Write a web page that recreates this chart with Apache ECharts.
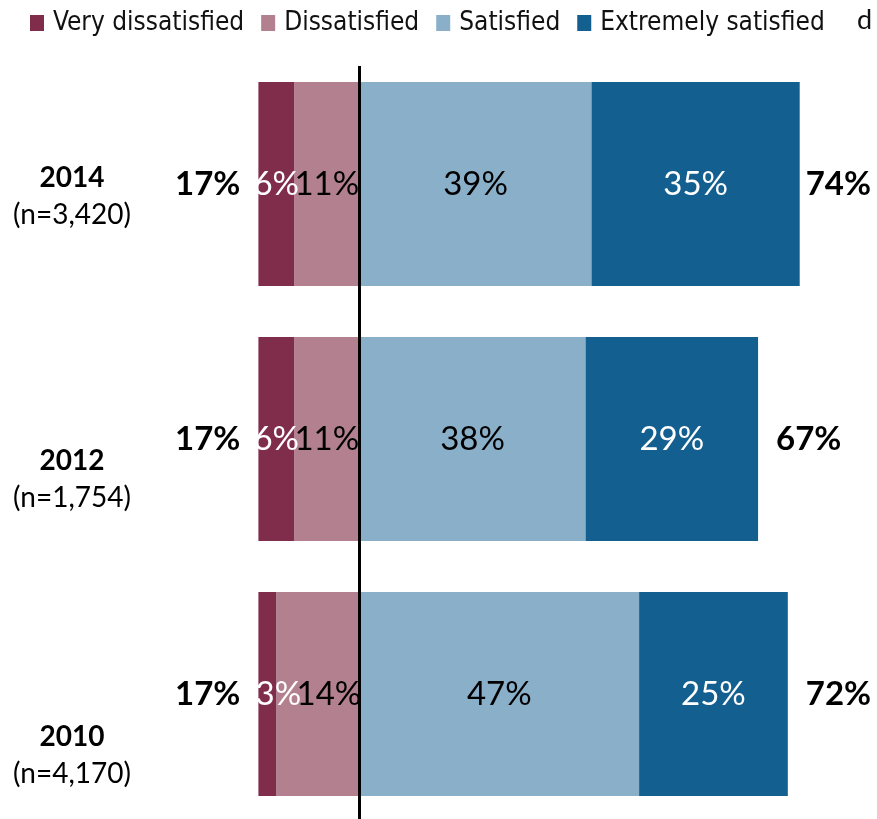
<!DOCTYPE html>
<html>
<head>
<meta charset="utf-8">
<script src="https://cdn.jsdelivr.net/npm/echarts@6/dist/echarts.min.js"></script>
<style>
  html, body { margin: 0; padding: 0; background: #fff; }
  #chart { width: 877px; height: 819px; }
</style>
</head>
<body>
<div id="chart"></div>
<script>
// survey years, top to bottom
var years = ['2014', '2012', '2010'];
var sampleSizes = ['n=3,420', 'n=1,754', 'n=4,170'];

// shares in percent
var veryDissatisfied = [6, 6, 3];
var dissatisfied = [11, 11, 14];
var satisfied = [39, 38, 47];
var extremelySatisfied = [35, 29, 25];

var colors = {
    veryDis: '#802d4b',
    dis: '#b3808f',
    sat: '#89afc9',
    ext: '#135f90'
};

// the year labels sit a bit lower than the bar centres
var labelShift = [12, 40, 61];
// in 2010 the small left-side labels are nudged right (as in the original)
var negLabelNudge = [0, 0, 11];

var negTotals = years.map(function (y, i) { return -(veryDissatisfied[i] + dissatisfied[i]); });
var posTotals = years.map(function (y, i) { return satisfied[i] + extremelySatisfied[i]; });

var pct = function (p) { return Math.abs(p.value) + '%'; };

function segment(name, values, sign, color, labelColor) {
    return {
        name: name,
        type: 'bar',
        stack: 'main',
        barCategoryGap: '20%',
        barGap: '-100%',
        data: values.map(function (v, i) {
            var item = { value: sign * v };
            if (sign < 0 && negLabelNudge[i]) item.label = { offset: [negLabelNudge[i], 0] };
            return item;
        }),
        itemStyle: { color: color },
        label: {
            show: true,
            position: 'inside',
            formatter: pct,
            color: labelColor,
            fontFamily: 'Lato',
            fontSize: 33
        },
        silent: true
    };
}

var rich = {
    n: { fontFamily: 'Lato', fontSize: 28, color: '#000', lineHeight: 37, align: 'center' },
    y: { fontFamily: 'Lato', fontSize: 28, fontWeight: 'bold', color: '#000', lineHeight: 37, align: 'center' }
};
labelShift.forEach(function (d, i) {
    rich['s' + i] = { fontSize: 4, lineHeight: 2 * d };
});

var option = {
    animation: false,
    backgroundColor: '#fff',
    legend: {
        data: ['Very dissatisfied', 'Dissatisfied', 'Satisfied', 'Extremely satisfied'],
        left: 25,
        top: 5,
        icon: 'rect',
        itemWidth: 14,
        itemHeight: 16,
        itemGap: 17,
        selectedMode: false,
        textStyle: {
            fontFamily: 'DejaVu Sans Condensed',
            fontSize: 26,
            color: '#111',
            padding: [0, 0, 0, 4]
        }
    },
    graphic: [{
        type: 'text',
        left: 857,
        top: 7,
        style: { text: 'd', font: '27px Lato', fill: '#111' }
    }],
    grid: {
        left: 258.4,
        width: 577,
        top: 56.5,
        height: 765,
        outerBoundsMode: 'none'
    },
    xAxis: {
        type: 'value',
        min: -17,
        max: 80,
        show: false
    },
    yAxis: {
        type: 'category',
        inverse: true,
        data: years,
        axisTick: { show: false },
        axisLine: { show: false },
        axisLabel: {
            margin: 186.4,
            align: 'center',
            formatter: function (value, index) {
                return '{s' + index + '| }\n{y|' + value + '}\n{n|(' + sampleSizes[index] + ')}';
            },
            rich: rich
        }
    },
    series: [
        segment('Dissatisfied', dissatisfied, -1, colors.dis, '#000'),
        segment('Very dissatisfied', veryDissatisfied, -1, colors.veryDis, '#fff'),
        segment('Satisfied', satisfied, 1, colors.sat, '#000'),
        segment('Extremely satisfied', extremelySatisfied, 1, colors.ext, '#fff'),
        {
            name: 'negTotal',
            type: 'bar',
            stack: 'total',
            barCategoryGap: '20%',
            barGap: '-100%',
            data: negTotals,
            itemStyle: { color: 'transparent' },
            silent: true,
            label: {
                show: true, position: 'left', distance: 18, formatter: pct,
                color: '#000', fontFamily: 'Lato', fontWeight: 'bold', fontSize: 33
            }
        },
        {
            name: 'posTotal',
            type: 'bar',
            stack: 'total',
            barCategoryGap: '20%',
            barGap: '-100%',
            data: posTotals.map(function (v, i) {
                return { value: v, label: { distance: i === 0 ? 6 : 18 } };
            }),
            itemStyle: { color: 'transparent' },
            silent: true,
            label: {
                show: true, position: 'right', distance: 18, formatter: pct,
                color: '#000', fontFamily: 'Lato', fontWeight: 'bold', fontSize: 33
            },
            // zero line, from just under the legend to the bottom edge
            markLine: {
                silent: true,
                symbol: 'none',
                z: 10,
                label: { show: false },
                lineStyle: { color: '#000', width: 3, type: 'solid' },
                data: [[{ xAxis: 0, y: 66 }, { xAxis: 0, y: 819 }]]
            }
        }
    ]
};

var myChart = echarts.init(document.getElementById('chart'));
myChart.setOption(option);
</script>
</body>
</html>
